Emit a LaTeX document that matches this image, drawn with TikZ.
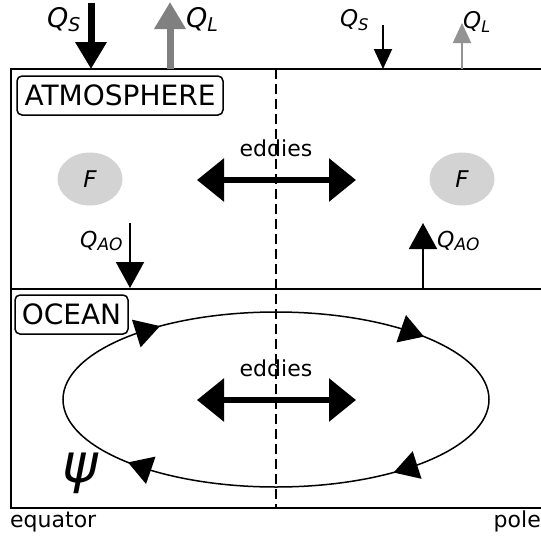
\documentclass[tikz,border=0pt]{standalone}
\usepackage{fontspec}
\setmainfont{DejaVu Sans}
\usetikzlibrary{arrows.meta,calc,shapes.geometric}
\definecolor{fgray}{HTML}{D3D3D3}
\definecolor{agray}{HTML}{808080}
\newcommand\QQ[3]{{\fontsize{#1pt}{#1pt}\selectfont\itshape Q\raisebox{-0.18em}{\fontsize{#2pt}{#2pt}\selectfont #3}}}
\begin{document}
\begin{tikzpicture}[x=1pt,y=-1pt,
  frame/.style={line width=2pt},
  divider/.style={line width=2pt,dash pattern=on 10pt off 5pt},
  bigflux/.style={line width=7pt,-{Triangle[length=27pt,width=30pt]}},
  smallflux/.style={line width=2pt,-{Triangle[length=20pt,width=18pt]}},
  aoflux/.style={line width=2pt,-{Triangle[length=26pt,width=28pt]}},
  eddyarrow/.style={line width=6pt,{Triangle[length=27pt,width=42pt]}-{Triangle[length=27pt,width=42pt]}},
  region/.style={draw,rounded corners=5pt,line width=1.5pt,inner sep=0pt,minimum height=39pt,font=\fontsize{28pt}{28pt}\selectfont},
  lbl/.style={font=\fontsize{22pt}{22pt}\selectfont,inner sep=0pt},
  qlbl/.style={inner sep=0pt,anchor=base west},
  forcing/.style={ellipse,fill=fgray,minimum width=65pt,minimum height=53pt,inner sep=0pt,font=\fontsize{23pt}{23pt}\selectfont\itshape},
  circ/.style={line width=1.5pt}
]
\useasboundingbox (0,0) rectangle (541,536);

% frame
\draw[frame] (541,69) -- (11,69) -- (11,508) -- (541,508);
\draw[frame] (11,289) -- (541,289);
\coordinate (dtop) at (276,69);
\coordinate (dbot) at (276,508);
\draw[divider] (dtop) -- (dbot);

% region labels
\node[region,minimum width=206pt] (atm) at (120,95.5) {ATMOSPHERE};
\node[region,minimum width=113pt] (ocn) at (71.5,314.5) {OCEAN};

% surface fluxes
\coordinate (qs1a) at (91,3);   \coordinate (qs1b) at (91,69);
\draw[bigflux] (qs1a) -- (qs1b);
\coordinate (ql1a) at (170,69); \coordinate (ql1b) at (170,2);
\draw[bigflux,agray] (ql1a) -- (ql1b);
\node[qlbl] (lqs1) at (47,27) {\QQ{27}{19}{S}};
\node[qlbl] (lql1) at (186,27) {\QQ{27}{19}{L}};

\coordinate (qs2a) at (383,25); \coordinate (qs2b) at (383,69);
\draw[smallflux] (qs2a) -- (qs2b);
\coordinate (ql2a) at (462,69); \coordinate (ql2b) at (462,23);
\draw[smallflux,agray!85] (ql2a) -- (ql2b);
\node[qlbl] (lqs2) at (340,26) {\QQ{23}{16}{S}};
\node[qlbl] (lql2) at (463,28) {\QQ{23}{16}{L}};

% forcing
\node[forcing] (F1) at (90,179) {F};
\node[forcing] (F2) at (462,179) {F};

% air-sea fluxes
\coordinate (qao1a) at (130,223); \coordinate (qao1b) at (130,288);
\draw[aoflux] (qao1a) -- (qao1b);
\coordinate (qao2a) at (423,289); \coordinate (qao2b) at (423,223);
\draw[aoflux] (qao2a) -- (qao2b);
\node[qlbl] (lqao1) at (80,247) {\QQ{22}{17}{AO}};
\node[qlbl] (lqao2) at (437,247) {\QQ{22}{17}{AO}};

% eddies
\coordinate (eaL) at (197,180); \coordinate (eaR) at (356,180);
\draw[eddyarrow] (eaL) -- (eaR);
\node[lbl,anchor=base] (eat) at (276,156) {eddies};
\coordinate (eoL) at (197,400); \coordinate (eoR) at (356,400);
\draw[eddyarrow] (eoL) -- (eoR);
\node[lbl,anchor=base] (eot) at (276,376) {eddies};

% overturning circulation
\draw[circ] (276,399.5) ellipse [x radius=213pt, y radius=87.5pt];
\coordinate (b1) at (136.3,333.5); \coordinate (t1) at (160.0,326.1);
\coordinate (b2) at (401.2,328.7); \coordinate (t2) at (424.0,336.6);
\coordinate (b3) at (417.1,465.0); \coordinate (t3) at (393.6,472.5);
\coordinate (b4) at (150.8,470.3); \coordinate (t4) at (128.0,462.4);
\foreach \i in {1,2,3,4}{
  \fill (t\i) -- ($(b\i)!14.5pt!90:(t\i)$) -- ($(b\i)!14.5pt!-90:(t\i)$) -- cycle;
}
\node[inner sep=0pt,font=\fontsize{54pt}{54pt}\selectfont\itshape] (psi) at (80,473) {ψ};

% axis labels
\node[lbl,anchor=base west] (eq) at (10,527) {equator};
\node[lbl,anchor=base east] (pole) at (541,527) {pole};
\end{tikzpicture}
\end{document}
